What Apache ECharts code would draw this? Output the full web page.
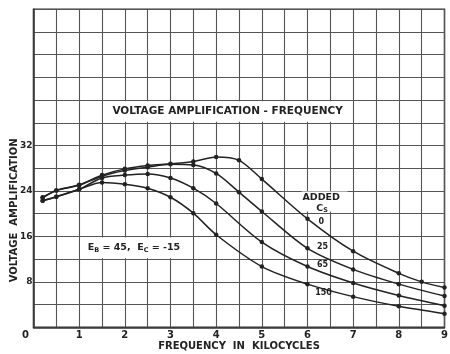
<!DOCTYPE html>
<html>
<head>
<meta charset="utf-8">
<script src="https://cdn.jsdelivr.net/npm/echarts@6/dist/echarts.min.js"></script>
<style>
html,body{margin:0;padding:0;background:#fff;}
#chart{width:450px;height:354px;}
</style>
</head>
<body>
<div id="chart"></div>
<script>
// Frequency (kc) and voltage amplification for each added Cs
const freq0 = [0.2, 0.5, 1, 1.5, 2, 2.5, 3, 3.5, 4, 4.5, 5, 6, 7, 8, 8.5, 9];
const amp0 = [22.9, 24.1, 25.1, 26.8, 27.9, 28.5, 28.8, 29.2, 30.0, 29.4, 26.1, 19.1, 13.4, 9.5, 8.0, 7.0];
const freq25 = [0.2, 0.5, 1, 1.5, 2, 2.5, 3, 3.5, 4, 4.5, 5, 6, 7, 8, 9];
const amp25 = [22.8, 24.1, 25.0, 26.6, 27.6, 28.2, 28.7, 28.6, 27.1, 23.8, 20.4, 13.9, 10.2, 7.6, 5.5];
const freq65 = [0.2, 0.5, 1, 1.5, 2, 2.5, 3, 3.5, 4, 5, 6, 7, 8, 9];
const amp65 = [22.3, 23.0, 24.3, 26.3, 26.8, 27.0, 26.3, 24.5, 21.8, 15.0, 10.7, 7.8, 5.6, 3.8];
const freq150 = [0.2, 0.5, 1, 1.5, 2, 2.5, 3, 3.5, 4, 5, 6, 7, 8, 9];
const amp150 = [22.3, 23.0, 24.3, 25.5, 25.2, 24.5, 22.9, 20.1, 16.3, 10.7, 7.6, 5.4, 3.7, 2.4];
const seriesNames = ['0', '25', '65', '150'];
const xTickLabels = ['0', '1', '2', '3', '4', '5', '6', '7', '8', '9'];
const yTickLabels = ['8', '16', '24', '32'];
const chartTitle = 'VOLTAGE AMPLIFICATION - FREQUENCY';
const xName = 'FREQUENCY  IN  KILOCYCLES';
const yName = 'VOLTAGE  AMPLIFICATION';

const FONT = 'DejaVu Sans';
const INK = '#222';

function pairs(xs, ys) { return xs.map((x, i) => [x, ys[i]]); }

const chart = echarts.init(document.getElementById('chart'), null, {renderer: 'canvas'});

const lineSeries = [
  [freq0, amp0], [freq25, amp25], [freq65, amp65], [freq150, amp150]
].map((d, i) => ({
  name: seriesNames[i],
  type: 'line',
  data: pairs(d[0], d[1]),
  smooth: 0.3,
  symbol: 'circle',
  symbolSize: 4.5,
  showSymbol: true,
  itemStyle: {color: INK},
  lineStyle: {color: INK, width: 1.5},
  clip: false,
  z: 5
}));

chart.setOption({
  animation: false,
  backgroundColor: '#fff',
  grid: {left: 33.5, right: 5.5, top: 9.3, bottom: 26.7, outerBoundsMode: 'none', containLabel: false,
         show: true, borderColor: '#333', borderWidth: 1.5},
  xAxis: {
    type: 'value', min: 0, max: 9, interval: 0.5,
    name: xName, nameLocation: 'middle', nameGap: 14, nameMoveOverlap: false,
    nameTextStyle: {fontFamily: FONT, fontWeight: 'bold', fontSize: 10, color: INK, verticalAlign: 'top'},
    axisLine: {show: true, lineStyle: {color: '#333', width: 1.5}},
    axisTick: {show: false},
    splitLine: {show: true, lineStyle: {color: '#555', width: 1.1}},
    axisLabel: {
      margin: 3, fontFamily: FONT, fontWeight: 'bold', fontSize: 10, color: INK,
      showMinLabel: true, showMaxLabel: true, hideOverlap: false,
      formatter: function (v) {
        if (Math.abs(v - Math.round(v)) > 1e-6) return '';
        const s = xTickLabels[Math.round(v)];
        return v === 0 ? '{o|' + s + '}' : s;
      },
      rich: {o: {fontFamily: FONT, fontWeight: 'bold', fontSize: 10, color: INK, padding: [0, 16, 0, 0]}}
    }
  },
  yAxis: {
    type: 'value', min: 0, max: 56, interval: 4,
    name: yName, nameLocation: 'middle', nameGap: 14, nameRotate: 90, nameMoveOverlap: false,
    nameTextStyle: {fontFamily: FONT, fontWeight: 'bold', fontSize: 10, color: INK, padding: [0, 84, 0, 0]},
    axisLine: {show: true, lineStyle: {color: '#333', width: 1.5}},
    axisTick: {show: false},
    splitLine: {show: true, lineStyle: {color: '#555', width: 1.1}},
    axisLabel: {
      margin: 1, fontFamily: FONT, fontWeight: 'bold', fontSize: 9, color: INK,
      formatter: function (v) { return yTickLabels.indexOf(String(v)) >= 0 ? String(v) : ''; }
    }
  },
  series: lineSeries
});

function px(x, y) { return chart.convertToPixel({gridIndex: 0}, [x, y]); }
function box(x0, y0, x1, y1) {
  const a = px(x0, y0), b = px(x1, y1);
  return {
    type: 'rect', z: 10, silent: true,
    shape: {x: Math.min(a[0], b[0]) + 1, y: Math.min(a[1], b[1]) + 1,
            width: Math.abs(b[0] - a[0]) - 2, height: Math.abs(b[1] - a[1]) - 2},
    style: {fill: '#fff'}
  };
}
function label(x, y, text, size, align, rich) {
  const p = px(x, y);
  return {
    type: 'text', z: 11, silent: true, x: p[0], y: p[1],
    style: {text: text, fill: INK, font: 'bold ' + size + 'px "' + FONT + '"',
            align: align || 'center', verticalAlign: 'middle', rich: rich}
  };
}
const subRich = {sub: {fontFamily: FONT, fontWeight: 'bold', fontSize: 6.5, fill: INK, color: INK, verticalAlign: 'bottom', padding: [5, 0, 0, 0]}};

chart.setOption({
  graphic: [
    box(1.5, 40, 7, 36),
    label(4.25, 38, chartTitle, 10.5),
    box(1, 16, 3.5, 12),
    label(2.2, 14, 'E{sub|B} = 45,  E{sub|C} = -15', 9.5, 'center', subRich),
    box(5.85, 24.1, 6.9, 20.2),
    label(6.3, 22.9, 'ADDED', 9.5),
    label(6.32, 21.0, 'C{sub|S}', 9.5, 'center', subRich),
    label(6.3, 18.6, seriesNames[0], 8),
    label(6.33, 14.2, seriesNames[1], 8),
    label(6.33, 11.0, seriesNames[2], 8),
    label(6.35, 6.0, seriesNames[3], 8)
  ]
});
</script>
</body>
</html>
